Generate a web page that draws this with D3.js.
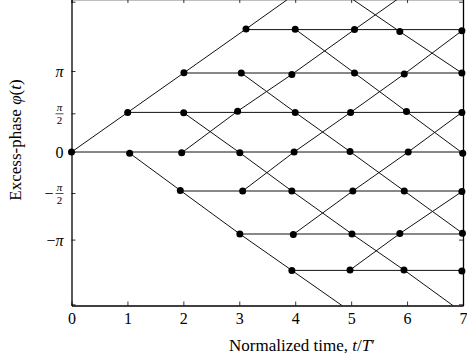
<!DOCTYPE html>
<html>
<head>
<meta charset="utf-8">
<script src="https://cdn.jsdelivr.net/npm/d3@7"></script>
<style>
  body { margin: 0; background: #fff; }
  svg { display: block; }
  svg text { font-family: "Liberation Serif", "DejaVu Serif", serif; }
</style>
</head>
<body>
<svg id="chart" width="467" height="364"></svg>
<script>
// Phase trellis. Phase is in trellis steps (one step ~ pi/2).
const levels = [3, 2, 1, 0, -1, -2, -3];
const rowPhase = [3.06, 1.975, 0.99, 0, -0.975, -2.05, -2.96];

// dots per level, indexed by time column 0..7 as [t, phase]; null = no state there
const dotsP3 = [null, null, null, [3.12, 3.075], [4.0, 3.07], [5.06, 3.06], [5.87, 3.01], [6.98, 3.03]];
const dotsP2 = [null, null, [2.01, 1.98], [3.036, 1.975], [3.94, 1.94], [5.06, 1.975], [5.95, 1.95], [6.98, 1.975]];
const dotsP1 = [null, [1.005, 0.99], [2.006, 0.98], [2.97, 1.02], [4.0, 0.99], [4.99, 0.99], [5.99, 1.01], [6.98, 0.99]];
const dots0 = [[0, 0], [1.04, -0.03], [1.97, -0.02], [3.01, -0.02], [3.98, 0], [4.98, 0.01], [6.02, 0], [6.995, -0.03]];
const dotsM1 = [null, null, [1.945, -0.96], [3.06, -0.975], [3.94, -0.975], [5.03, -0.975], [5.95, -0.975], [6.98, -0.99]];
const dotsM2 = [null, null, null, [3.01, -2.05], [3.966, -2.06], [5.015, -2.05], [5.87, -2.04], [6.99, -2.03]];
const dotsM3 = [null, null, null, null, [3.94, -2.96], [4.98, -2.95], [5.945, -2.95], [6.98, -2.975]];

// paths as [column, level]
const upPath = [[0, 0], [1, 1], [2, 2], [3, 3]];
const downPath = [[1, 0], [2, -1], [3, -2], [4, -3]];
// X between column c and c+1 for levels j and j-1: [c, j]
const crossings = [[2, 1], [3, 2], [3, 0], [4, 3], [4, 1], [4, -1], [5, 2], [5, 0], [5, -2], [6, 3], [6, 1], [6, -1]];
// branches running out of the plotted range: [column, level] -> [t, phase]
const exits = [
  [[3, 3], [4.0, 3.95]],
  [[4, -3], [4.9, -3.9]],
  [[5, 3], [5.9, 3.89]],
  [[6, 3], [4.95, 3.89]],
  [[6, -3], [6.95, -3.97]],
];

const xTicks = [0, 1, 2, 3, 4, 5, 6, 7];
const yTicks = [3.7575, 2.025, 0.9675, 0, -1.025, -2.19, -3.8075];
const yTickLabels = ["", "π", "π/2", "0", "−π/2", "−π", ""];

const rows = [dotsP3, dotsP2, dotsP1, dots0, dotsM1, dotsM2, dotsM3];
const node = (c, j) => rows[levels.indexOf(j)][c];

const svg = d3.select("#chart");
const x = d3.scaleLinear().domain([0, 7]).range([71.5, 463]);
const y = d3.scaleLinear().domain([-3.8375, 3.825]).range([305.5, -1]);

svg.append("defs").append("clipPath").attr("id", "plot")
  .append("rect")
  .attr("x", x(0)).attr("y", y(3.825))
  .attr("width", x(7) - x(0)).attr("height", y(-3.8375) - y(3.825));

// axes (ticks point inward, mirrored on top/right)
const styleAxis = (g) => {
  g.attr("font-family", null).attr("font-size", null);
  g.select(".domain").attr("stroke", "#000").attr("stroke-width", 1.3);
  g.selectAll(".tick line").attr("stroke", "#000").attr("stroke-width", 0.8);
};

svg.append("g")
  .attr("transform", `translate(0,${y(-3.8375)})`)
  .call(d3.axisBottom(x).tickValues(xTicks).tickFormat(d3.format("d"))
    .tickSizeInner(-4).tickSizeOuter(0).tickPadding(7))
  .call(styleAxis)
  .call((g) => g.selectAll("text").attr("fill", "#000").style("font-size", "16px"));

svg.append("g")
  .attr("transform", `translate(0,${y(3.825)})`)
  .call(d3.axisTop(x).tickValues(xTicks).tickSizeInner(-4).tickSizeOuter(0).tickFormat(""))
  .call(styleAxis);

const yAxis = svg.append("g")
  .attr("transform", `translate(${x(0)},0)`)
  .call(d3.axisLeft(y).tickValues(yTicks).tickSizeInner(-4).tickSizeOuter(0).tickFormat(""))
  .call(styleAxis);

svg.append("g")
  .attr("transform", `translate(${x(7)},0)`)
  .call(d3.axisRight(y).tickValues(yTicks).tickSizeInner(-4).tickSizeOuter(0).tickFormat(""))
  .call(styleAxis);

// y tick labels, with stacked fractions for pi/2
yAxis.selectAll(".tick").each(function (d, i) {
  const label = yTickLabels[i];
  if (!label) return;
  const g = d3.select(this).append("g").attr("fill", "#000");
  const neg = label.startsWith("−");
  const body = neg ? label.slice(1) : label;
  const right = -8;
  if (body === "π/2") {
    const cx = right - 4;
    g.append("text").attr("x", cx).attr("y", -2.5).attr("text-anchor", "middle")
      .style("font-size", "11px").style("font-style", "italic").text("π");
    g.append("line").attr("x1", cx - 4).attr("x2", cx + 4).attr("y1", 0).attr("y2", 0)
      .attr("stroke", "#000").attr("stroke-width", 0.7);
    g.append("text").attr("x", cx).attr("y", 10.5).attr("text-anchor", "middle")
      .style("font-size", "11px").text("2");
    if (neg) {
      g.append("text").attr("x", cx - 6).attr("y", 5).attr("text-anchor", "end")
        .style("font-size", "16px").text("−");
    }
  } else {
    const t = g.append("text").attr("x", right).attr("y", 5.5).attr("text-anchor", "end")
      .style("font-size", "16px");
    if (neg) t.append("tspan").text("−");
    t.append("tspan").style("font-style", body === "π" ? "italic" : "normal").text(body);
  }
});

// trellis branches
const lines = svg.append("g").attr("clip-path", "url(#plot)")
  .attr("fill", "none").attr("stroke", "#111").attr("stroke-width", 1);
const line = d3.line().x((p) => x(p[0])).y((p) => y(p[1]));

levels.forEach((j, r) => {
  const first = rows[r].find((p) => p);
  lines.append("path").attr("d", line([[first[0], rowPhase[r]], [7, rowPhase[r]]]));
});
lines.append("path").attr("d", line(upPath.map(([c, j]) => node(c, j))));
lines.append("path").attr("d", line(downPath.map(([c, j]) => node(c, j))));
crossings.forEach(([c, j]) => {
  lines.append("path").attr("d", line([node(c, j), node(c + 1, j - 1)]));
  lines.append("path").attr("d", line([node(c, j - 1), node(c + 1, j)]));
});
exits.forEach(([[c, j], end]) => {
  lines.append("path").attr("d", line([node(c, j), end]));
});

// states
svg.append("g").selectAll("circle")
  .data(rows.flat().filter((p) => p))
  .join("circle")
  .attr("cx", (p) => x(p[0]))
  .attr("cy", (p) => y(p[1]))
  .attr("r", 3.5)
  .attr("fill", "#000");

// axis titles
const xt = svg.append("text").attr("x", 302).attr("y", 351).attr("text-anchor", "middle")
  .style("font-size", "17px");
xt.append("tspan").text("Normalized time, ");
xt.append("tspan").style("font-style", "italic").text("t");
xt.append("tspan").text("/");
xt.append("tspan").style("font-style", "italic").text("T");
xt.append("tspan").text("′");

const yt = svg.append("text").attr("transform", "translate(21,140) rotate(-90)")
  .attr("text-anchor", "middle").style("font-size", "17px");
yt.append("tspan").text("Excess-phase ");
yt.append("tspan").style("font-style", "italic").text("φ");
yt.append("tspan").text("(");
yt.append("tspan").style("font-style", "italic").text("t");
yt.append("tspan").text(")");
</script>
</body>
</html>
